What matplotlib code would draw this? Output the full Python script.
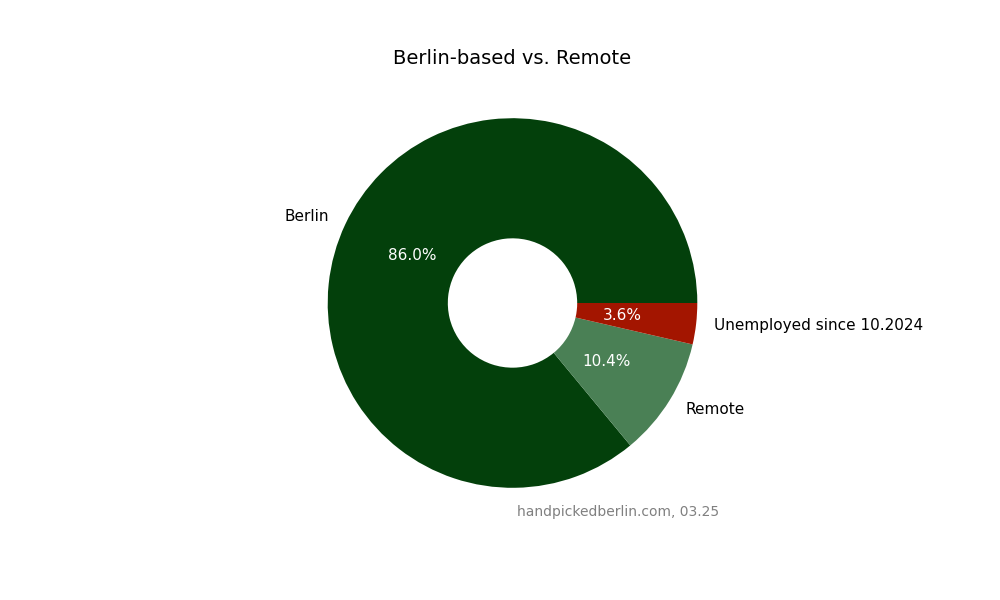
import matplotlib
matplotlib.use("Agg")
import matplotlib.pyplot as plt

labels = ["Berlin", "Remote", "Unemployed since 10.2024"]
values = [86.0, 10.4, 3.6]
colors = ["#03400b", "#4a8055", "#a31500"]

fig, ax = plt.subplots(figsize=(10, 6), dpi=100)
wedges, texts, autotexts = ax.pie(values, labels=labels, colors=colors, autopct="%1.1f%%",
                                  wedgeprops=dict(width=0.65), textprops=dict(fontsize=11))
for t in autotexts:
    t.set_color("white")
ax.set_title("Berlin-based vs. Remote", fontsize=14)
fig.text(0.618, 0.147, "handpickedberlin.com, 03.25", ha="center", va="center", fontsize=10, color="gray")
fig.savefig("out.png")
